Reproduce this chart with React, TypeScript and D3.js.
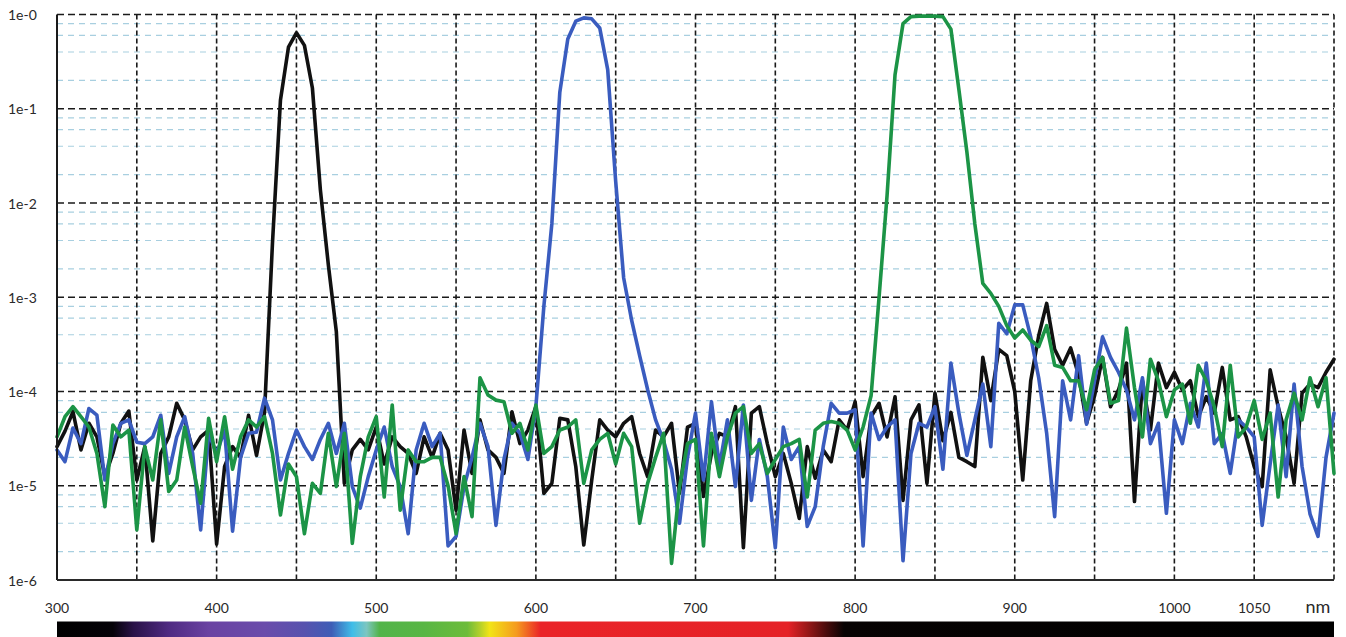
import * as d3 from 'd3';

// wavelengths sampled every 5 nm, 300..1100
const NM = d3.range(300, 1101, 5);

const BLACK = [
  2.6e-5, 3.8e-5, 6.1e-5, 2.4e-5, 4.6e-5, 3.3e-5, 1.25e-5, 2.2e-5, 4.6e-5, 6.2e-5,
  1.15e-5, 2.6e-5, 2.6e-6, 2.2e-5, 3.3e-5, 7.5e-5, 5e-5, 2.4e-5, 3.3e-5, 3.9e-5,
  2.4e-6, 1.6e-5, 2.6e-5, 2e-5, 5.6e-5, 2.1e-5, 6e-5, 3.8e-3, 0.124, 0.45,
  0.64, 0.47, 0.166, 0.0138, 2.2e-3, 4.3e-4, 1.06e-5, 2.4e-5, 3.1e-5, 2.4e-5,
  4.2e-5, 1.7e-5, 3.3e-5, 2.6e-5, 2.2e-5, 1.35e-5, 3.3e-5, 2e-5, 3.6e-5, 2.4e-5,
  5.5e-6, 3.9e-5, 1.35e-5, 5e-5, 2.4e-5, 2e-5, 1.35e-5, 6.1e-5, 2.8e-5, 3.9e-5,
  6.9e-5, 8.3e-6, 1.06e-5, 5.2e-5, 5e-5, 1.6e-5, 2.35e-6, 1.15e-5, 5e-5, 3.9e-5,
  3.3e-5, 4.6e-5, 5.4e-5, 2.2e-5, 1.25e-5, 3.9e-5, 3.3e-5, 4.6e-5, 8.3e-6, 4.2e-5,
  4.6e-5, 7.7e-6, 2.2e-5, 3.6e-5, 3.3e-5, 6.9e-5, 2.2e-6, 5.9e-5, 6.9e-5, 2.8e-5,
  1.25e-5, 2.2e-5, 1.06e-5, 4.5e-6, 2.6e-5, 1.2e-5, 2.4e-5, 1.8e-5, 5e-5, 3.9e-5,
  7.8e-5, 1.25e-5, 5.4e-5, 7.5e-5, 3.3e-5, 8.8e-5, 7e-6, 5e-5, 7.2e-5, 1.06e-5,
  9.6e-5, 3e-5, 6e-5, 2e-5, 1.8e-5, 1.6e-5, 2.3e-4, 8e-5, 2.8e-4, 2.4e-4,
  1e-4, 1.15e-5, 1.3e-4, 3.9e-4, 8.6e-4, 2.8e-4, 1.9e-4, 2.9e-4, 1.5e-4, 4.6e-5,
  9e-5, 2.3e-4, 6.9e-5, 1.04e-4, 2e-4, 6.8e-6, 1.3e-4, 3.9e-5, 2e-4, 1.1e-4,
  1.6e-4, 1.04e-4, 1.3e-4, 5.4e-5, 8.8e-5, 5.9e-5, 1.8e-4, 5e-5, 5.4e-5, 3.3e-5,
  1.6e-5, 9.8e-6, 1.7e-4, 6.9e-5, 3.3e-5, 1.06e-5, 9.6e-5, 1.2e-4, 1.1e-4, 1.6e-4,
  2.2e-4,
];

const BLUE = [
  2.4e-5, 1.8e-5, 4.1e-5, 2.8e-5, 6.6e-5, 5.6e-5, 1.15e-5, 2.8e-5, 4.6e-5, 5e-5,
  2.9e-5, 2.8e-5, 3.3e-5, 5.6e-5, 1.35e-5, 3.3e-5, 5.4e-5, 2.2e-5, 3.4e-6, 3.6e-5,
  2.2e-5, 3.9e-5, 3.3e-6, 2e-5, 3.6e-5, 3.7e-5, 8.5e-5, 5e-5, 1.15e-5, 2.2e-5,
  3.9e-5, 2.6e-5, 1.9e-5, 3.1e-5, 4.6e-5, 2.2e-5, 4.6e-5, 9.8e-6, 5.8e-6, 1.25e-5,
  2.4e-5, 4.2e-5, 1.6e-5, 9.8e-6, 3.1e-6, 2.4e-5, 4.6e-5, 2.6e-5, 3.6e-5, 2.3e-6,
  2.9e-6, 9.8e-6, 2e-5, 4.6e-5, 2.6e-5, 3.8e-6, 1.9e-5, 4.6e-5, 3.6e-5, 1.9e-5,
  6.9e-5, 8e-4, 6e-3, 0.15, 0.55, 0.85, 0.92, 0.9, 0.72, 0.26,
  0.017, 1.6e-3, 5.7e-4, 2.4e-4, 1.05e-4, 5e-5, 3e-5, 1.5e-5, 4e-6, 2e-5,
  5.9e-5, 1.15e-5, 7.8e-5, 1.6e-5, 5e-5, 9.8e-6, 7.2e-5, 7e-6, 3.1e-5, 1.25e-5,
  2.2e-6, 4.2e-5, 1.9e-5, 2.6e-5, 3.7e-6, 6e-6, 2.6e-5, 7.5e-5, 5.9e-5, 5.9e-5,
  6.4e-5, 2.3e-6, 5.9e-5, 3.1e-5, 4.2e-5, 5e-5, 1.6e-6, 2.2e-5, 4.6e-5, 4.2e-5,
  6.9e-5, 1.5e-5, 2e-4, 5.9e-5, 2.1e-5, 5e-5, 1.2e-4, 2.6e-5, 5.3e-4, 4.1e-4,
  8.3e-4, 8.3e-4, 3.8e-4, 1.4e-4, 3.6e-5, 4.7e-6, 1.3e-4, 5e-5, 2.4e-4, 4.5e-5,
  1.3e-4, 3.8e-4, 2.3e-4, 1.6e-4, 1.04e-4, 5e-5, 1.4e-4, 2.8e-5, 4.6e-5, 5.1e-6,
  5e-5, 2.8e-5, 7.5e-5, 4.2e-5, 2e-4, 2.8e-5, 3.6e-5, 1.35e-5, 5e-5, 4.2e-5,
  3.3e-5, 3.8e-6, 1.7e-5, 7.2e-5, 1.25e-5, 1.2e-4, 1.6e-5, 5e-6, 2.9e-6, 2e-5,
  5.9e-5,
];

const GREEN = [
  3.3e-5, 5.4e-5, 6.9e-5, 5.4e-5, 4.2e-5, 2.2e-5, 6e-6, 4.4e-5, 3.3e-5, 3.9e-5,
  3.4e-6, 2.6e-5, 1.15e-5, 5e-5, 8.7e-6, 1.15e-5, 4.2e-5, 1.6e-5, 6.5e-6, 5.2e-5,
  1.8e-5, 5.4e-5, 1.5e-5, 3.3e-5, 5e-5, 4.2e-5, 5.4e-5, 2.2e-5, 4.9e-6, 1.7e-5,
  1.25e-5, 3.1e-6, 1.06e-5, 8.3e-6, 3.6e-5, 9.8e-6, 3.6e-5, 2.45e-6, 1.25e-5, 3.3e-5,
  5.4e-5, 7.6e-6, 7.2e-5, 5.5e-6, 2.4e-5, 1.8e-5, 1.8e-5, 2e-5, 2e-5, 1e-5,
  3.1e-6, 1.25e-5, 4.7e-6, 1.4e-4, 9.2e-5, 8.1e-5, 7.8e-5, 3.6e-5, 4.6e-5, 2.4e-5,
  7.2e-5, 2.2e-5, 2.6e-5, 3.9e-5, 4.2e-5, 5e-5, 1.06e-5, 2.4e-5, 3.1e-5, 3.6e-5,
  1.7e-5, 3.6e-5, 2.6e-5, 4e-6, 1.06e-5, 2e-5, 3.6e-5, 1.5e-6, 9.8e-6, 2.8e-5,
  3.1e-5, 2.3e-6, 3.6e-5, 1.25e-5, 3.3e-5, 5.9e-5, 6.9e-5, 2.2e-5, 2.8e-5, 1.35e-5,
  1.9e-5, 2.6e-5, 2.8e-5, 3.1e-5, 7.6e-6, 3.9e-5, 4.6e-5, 4.8e-5, 4.6e-5, 3.9e-5,
  2.4e-5, 4.2e-5, 9e-5, 1e-3, 1.2e-2, 0.23, 0.8, 0.95, 0.96, 0.96,
  0.96, 0.95, 0.7, 0.16, 0.035, 6e-3, 1.4e-3, 1.1e-3, 8e-4, 5e-4,
  3.7e-4, 4.5e-4, 3.5e-4, 3e-4, 5e-4, 1.9e-4, 1.8e-4, 1.3e-4, 1.3e-4, 6.4e-5,
  1.7e-4, 2.3e-4, 7.5e-5, 8e-5, 4.7e-4, 1.1e-4, 3.3e-5, 2.2e-4, 1.3e-4, 5.4e-5,
  1.04e-4, 1.2e-4, 4.6e-5, 1.9e-4, 1.3e-4, 6.9e-5, 2.6e-5, 1.9e-4, 3.3e-5, 4.2e-5,
  8e-5, 3.1e-5, 5.9e-5, 7.6e-6, 5e-5, 9.6e-5, 5e-5, 1.4e-4, 6.9e-5, 1.4e-4,
  1.35e-5,
];

const Y_TICKS = [1, 1e-1, 1e-2, 1e-3, 1e-4, 1e-5, 1e-6];
const Y_LABELS = ['1e-0', '1e-1', '1e-2', '1e-3', '1e-4', '1e-5', '1e-6'];
const X_TICKS = [300, 400, 500, 600, 700, 800, 900, 1000, 1050];

// visible-spectrum strip under the axis
const SPEC_NM = [300, 335, 348, 370, 395, 430, 455, 472, 485, 494, 502, 530, 557, 565, 571, 588, 603, 758, 770, 782, 793, 1100];
const SPEC_COL = ['#000000', '#050208', '#2a1248', '#4f2a82', '#6a42a2', '#6a4cab', '#5752ae', '#3e5db6', '#3fbde8', '#7cc6c0',
  '#52b44a', '#58b644', '#6cbc3a', '#b4d02a', '#f2e416', '#f59a1e', '#ea2328', '#e52227', '#9a1818', '#4a0c0c', '#070303', '#000000'];

const SERIES = [
  { key: 'black', values: BLACK, color: '#111111' },
  { key: 'blue', values: BLUE, color: '#3a5cbf' },
  { key: 'green', values: GREEN, color: '#1c9446' },
];

const W = 1346, H = 637;
const L = 57, R = 1334, T = 14.5, B = 580;

export default function App() {
  const x = d3.scaleLinear().domain([300, 1100]).range([L, R]);
  const y = d3.scaleLog().domain([1e-6, 1]).range([B, T]);
  const line = d3.line<number>().x((_, i) => x(NM[i])).y(v => y(v));

  const minor: number[] = [];
  Y_TICKS.slice(1).forEach(d => [2, 4, 6, 8].forEach(m => minor.push(d * m)));
  const vGrid = d3.range(300, 1101, 50);
  const font = 'Lato, "Open Sans", sans-serif';

  return (
    <svg width={W} height={H} style={{ position: 'absolute', left: 0, top: 0, display: 'block', background: '#fff' }}>
      <defs>
        <linearGradient id="spec" x1="0" x2="1" y1="0" y2="0">
          {SPEC_NM.map((n, i) => (
            <stop key={i} offset={(x(n) - L) / (R - L)} stopColor={SPEC_COL[i]} />
          ))}
        </linearGradient>
      </defs>

      {/* minor grid */}
      {minor.map(v => (
        <line key={'m' + v} x1={L} x2={R} y1={y(v)} y2={y(v)} stroke="#a8cfe0" strokeWidth={1.2} strokeDasharray="6 5" />
      ))}
      {/* major horizontal grid */}
      {Y_TICKS.slice(0, 6).map(v => (
        <line key={'h' + v} x1={L} x2={R} y1={y(v)} y2={y(v)} stroke="#1a1a1a" strokeWidth={1.7} strokeDasharray="7 4" />
      ))}
      {/* vertical grid */}
      {vGrid.slice(1).map(n => (
        <line key={'v' + n} x1={x(n)} x2={x(n)} y1={T} y2={B} stroke="#1a1a1a" strokeWidth={1.6} strokeDasharray="5 3" />
      ))}

      {/* series */}
      {SERIES.map(s => (
        <path key={s.key} d={line(s.values) ?? ''} fill="none" stroke={s.color} strokeWidth={3.6}
          strokeLinejoin="round" strokeLinecap="round" />
      ))}

      {/* axes */}
      <line x1={L} x2={L} y1={T} y2={B} stroke="#1a1a1a" strokeWidth={2} />
      <line x1={L} x2={R} y1={B} y2={B} stroke="#2a2a2a" strokeWidth={2} />

      {Y_TICKS.map((v, i) => (
        <text key={'yl' + i} x={8} y={y(v)} dominantBaseline="central" fontFamily={font} fontSize={14} fill="#2a2a2a">
          {Y_LABELS[i]}
        </text>
      ))}
      {X_TICKS.map(n => (
        <text key={'xl' + n} x={x(n)} y={613} textAnchor="middle" fontFamily={font} fontSize={14} fill="#2a2a2a">{n}</text>
      ))}
      <text x={1318} y={613} textAnchor="middle" fontFamily={font} fontSize={18} fill="#2a2a2a">nm</text>

      <rect x={L} y={621.5} width={R - L} height={H - 621.5} fill="url(#spec)" />
    </svg>
  );
}
